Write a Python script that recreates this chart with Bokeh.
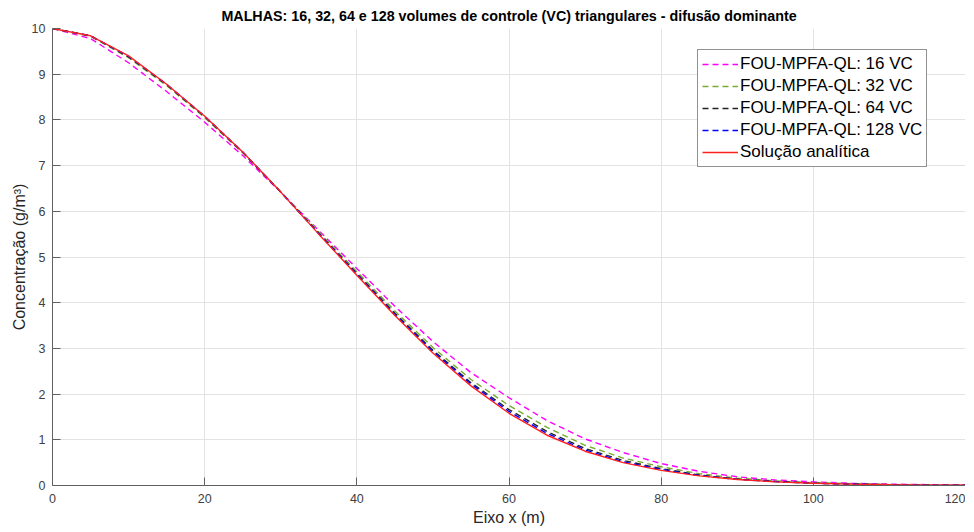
from bokeh.plotting import figure
from bokeh.models import Range1d, FixedTicker
from bokeh.embed import file_html
from bokeh.resources import INLINE

x = [0, 5, 10, 15, 20, 25, 30, 35, 40, 45, 50, 55, 60, 65, 70, 75, 80, 85, 90, 95, 100, 105, 110, 115, 120]

vc16 = [10.0, 9.78, 9.25, 8.62, 7.95, 7.22, 6.42, 5.58, 4.75, 3.92, 3.15, 2.47, 1.92, 1.42, 1.02, 0.72, 0.48, 0.31, 0.19, 0.12, 0.08, 0.05, 0.03, 0.02, 0.01]
vc32 = [10.0, 9.83, 9.36, 8.75, 8.05, 7.28, 6.43, 5.55, 4.68, 3.82, 3.02, 2.32, 1.75, 1.27, 0.88, 0.60, 0.41, 0.26, 0.16, 0.10, 0.06, 0.04, 0.02, 0.01, 0.005]
vc64 = [10.0, 9.84, 9.38, 8.77, 8.07, 7.29, 6.42, 5.52, 4.64, 3.77, 2.96, 2.25, 1.66, 1.18, 0.81, 0.55, 0.37, 0.23, 0.14, 0.09, 0.05, 0.03, 0.02, 0.01, 0.005]
vc128 = [10.0, 9.84, 9.39, 8.78, 8.08, 7.30, 6.42, 5.51, 4.62, 3.74, 2.93, 2.22, 1.62, 1.14, 0.78, 0.52, 0.35, 0.22, 0.135, 0.085, 0.05, 0.03, 0.016, 0.009, 0.004]
analitica = [10.0, 9.84, 9.40, 8.78, 8.08, 7.30, 6.42, 5.50, 4.60, 3.72, 2.90, 2.18, 1.58, 1.10, 0.75, 0.50, 0.33, 0.21, 0.13, 0.08, 0.05, 0.03, 0.015, 0.008, 0.004]

labels = ["FOU-MPFA-QL: 16 VC", "FOU-MPFA-QL: 32 VC", "FOU-MPFA-QL: 64 VC", "FOU-MPFA-QL: 128 VC", "Solução analítica"]
x_ticks = [0, 20, 40, 60, 80, 100, 120]
y_ticks = [0, 1, 2, 3, 4, 5, 6, 7, 8, 9, 10]

FONT = "Liberation Sans"
TXT = "#404040"

p = figure(frame_width=913, frame_height=457, output_backend="svg", toolbar_location=None,
           x_range=Range1d(0, 120), y_range=Range1d(0, 10),
           title="MALHAS: 16, 32, 64 e 128 volumes de controle (VC) triangulares - difusão dominante",
           min_border_left=52, min_border_right=0, min_border_top=22, min_border_bottom=44)

p.title.align = "center"
p.title.text_font = FONT
p.title.text_font_size = "14.3px"
p.title.text_font_style = "bold"
p.title.text_color = "#000000"
p.outline_line_color = None

for ax in (p.xaxis[0], p.yaxis[0]):
    ax.major_tick_in = 8
    ax.major_tick_out = 0
    ax.minor_tick_line_color = None
    ax.axis_line_color = "#606060"
    ax.major_tick_line_color = "#606060"
    ax.major_label_text_font = FONT
    ax.major_label_text_font_size = "12.5px"
    ax.major_label_text_color = TXT
    ax.axis_label_text_font = FONT
    ax.axis_label_text_font_size = "16px"
    ax.axis_label_text_font_style = "normal"
    ax.axis_label_text_color = "#262626"

p.xaxis.ticker = FixedTicker(ticks=x_ticks)
p.yaxis.ticker = FixedTicker(ticks=y_ticks)
p.xaxis.axis_label = "Eixo x (m)"
p.yaxis.axis_label = "Concentração (g/m³)"
p.xaxis.major_label_standoff = 8
p.xaxis.axis_label_standoff = 3
p.yaxis.major_label_standoff = 7
p.yaxis.axis_label_standoff = 1

p.xgrid.grid_line_color = "#e3e3e3"
p.ygrid.grid_line_color = "#e3e3e3"

colors = ["#ff00ff", "#77ac30", "#222222", "#0000ff", "#ff2020"]
series = [vc16, vc32, vc64, vc128, analitica]
for i, (ys, c, lab) in enumerate(zip(series, colors, labels)):
    dash = "solid" if i == 4 else "6 4"
    p.line(x, ys, line_color=c, line_width=1.4, line_dash=dash, legend_label=lab)

lg = p.legend[0]
lg.location = (645, 318)
lg.label_text_font = FONT
lg.label_text_font_size = "17px"
lg.label_text_color = "#000000"
lg.glyph_width = 36
lg.glyph_height = 20
lg.label_height = 20
lg.label_standoff = 2
lg.spacing = 2
lg.padding = 4
lg.margin = 0
lg.border_line_color = "#262626"
lg.border_line_width = 1
lg.background_fill_alpha = 1

open("out.html", "w").write(file_html(p, INLINE))
